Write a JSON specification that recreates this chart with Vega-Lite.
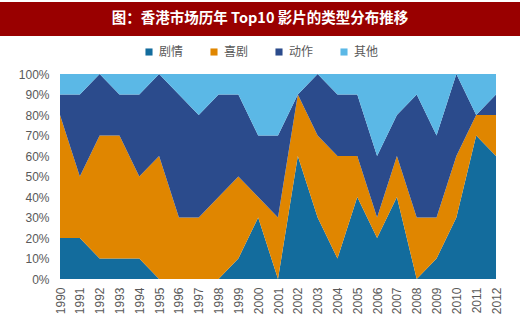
{
  "$schema": "https://vega.github.io/schema/vega-lite/v6.json",
  "padding": {"left": 0, "top": 2, "right": 0, "bottom": 0},
  "spacing": 38,
  "bounds": "flush",
  "background": "white",
  "config": {"view": {"stroke": null}},
  "datasets": {
    "title": [{"t": "图：香港市场历年 Top10 影片的类型分布推移"}],
    "share": [
      {"year": "1990", "genre": "剧情", "v": 0.2}, {"year": "1990", "genre": "喜剧", "v": 0.6}, {"year": "1990", "genre": "动作", "v": 0.1}, {"year": "1990", "genre": "其他", "v": 0.1},
      {"year": "1991", "genre": "剧情", "v": 0.2}, {"year": "1991", "genre": "喜剧", "v": 0.3}, {"year": "1991", "genre": "动作", "v": 0.4}, {"year": "1991", "genre": "其他", "v": 0.1},
      {"year": "1992", "genre": "剧情", "v": 0.1}, {"year": "1992", "genre": "喜剧", "v": 0.6}, {"year": "1992", "genre": "动作", "v": 0.3}, {"year": "1992", "genre": "其他", "v": 0.0},
      {"year": "1993", "genre": "剧情", "v": 0.1}, {"year": "1993", "genre": "喜剧", "v": 0.6}, {"year": "1993", "genre": "动作", "v": 0.2}, {"year": "1993", "genre": "其他", "v": 0.1},
      {"year": "1994", "genre": "剧情", "v": 0.1}, {"year": "1994", "genre": "喜剧", "v": 0.4}, {"year": "1994", "genre": "动作", "v": 0.4}, {"year": "1994", "genre": "其他", "v": 0.1},
      {"year": "1995", "genre": "剧情", "v": 0.0}, {"year": "1995", "genre": "喜剧", "v": 0.6}, {"year": "1995", "genre": "动作", "v": 0.4}, {"year": "1995", "genre": "其他", "v": 0.0},
      {"year": "1996", "genre": "剧情", "v": 0.0}, {"year": "1996", "genre": "喜剧", "v": 0.3}, {"year": "1996", "genre": "动作", "v": 0.6}, {"year": "1996", "genre": "其他", "v": 0.1},
      {"year": "1997", "genre": "剧情", "v": 0.0}, {"year": "1997", "genre": "喜剧", "v": 0.3}, {"year": "1997", "genre": "动作", "v": 0.5}, {"year": "1997", "genre": "其他", "v": 0.2},
      {"year": "1998", "genre": "剧情", "v": 0.0}, {"year": "1998", "genre": "喜剧", "v": 0.4}, {"year": "1998", "genre": "动作", "v": 0.5}, {"year": "1998", "genre": "其他", "v": 0.1},
      {"year": "1999", "genre": "剧情", "v": 0.1}, {"year": "1999", "genre": "喜剧", "v": 0.4}, {"year": "1999", "genre": "动作", "v": 0.4}, {"year": "1999", "genre": "其他", "v": 0.1},
      {"year": "2000", "genre": "剧情", "v": 0.3}, {"year": "2000", "genre": "喜剧", "v": 0.1}, {"year": "2000", "genre": "动作", "v": 0.3}, {"year": "2000", "genre": "其他", "v": 0.3},
      {"year": "2001", "genre": "剧情", "v": 0.0}, {"year": "2001", "genre": "喜剧", "v": 0.3}, {"year": "2001", "genre": "动作", "v": 0.4}, {"year": "2001", "genre": "其他", "v": 0.3},
      {"year": "2002", "genre": "剧情", "v": 0.6}, {"year": "2002", "genre": "喜剧", "v": 0.3}, {"year": "2002", "genre": "动作", "v": 0.0}, {"year": "2002", "genre": "其他", "v": 0.1},
      {"year": "2003", "genre": "剧情", "v": 0.3}, {"year": "2003", "genre": "喜剧", "v": 0.4}, {"year": "2003", "genre": "动作", "v": 0.3}, {"year": "2003", "genre": "其他", "v": 0.0},
      {"year": "2004", "genre": "剧情", "v": 0.1}, {"year": "2004", "genre": "喜剧", "v": 0.5}, {"year": "2004", "genre": "动作", "v": 0.3}, {"year": "2004", "genre": "其他", "v": 0.1},
      {"year": "2005", "genre": "剧情", "v": 0.4}, {"year": "2005", "genre": "喜剧", "v": 0.2}, {"year": "2005", "genre": "动作", "v": 0.3}, {"year": "2005", "genre": "其他", "v": 0.1},
      {"year": "2006", "genre": "剧情", "v": 0.2}, {"year": "2006", "genre": "喜剧", "v": 0.1}, {"year": "2006", "genre": "动作", "v": 0.3}, {"year": "2006", "genre": "其他", "v": 0.4},
      {"year": "2007", "genre": "剧情", "v": 0.4}, {"year": "2007", "genre": "喜剧", "v": 0.2}, {"year": "2007", "genre": "动作", "v": 0.2}, {"year": "2007", "genre": "其他", "v": 0.2},
      {"year": "2008", "genre": "剧情", "v": 0.0}, {"year": "2008", "genre": "喜剧", "v": 0.3}, {"year": "2008", "genre": "动作", "v": 0.6}, {"year": "2008", "genre": "其他", "v": 0.1},
      {"year": "2009", "genre": "剧情", "v": 0.1}, {"year": "2009", "genre": "喜剧", "v": 0.2}, {"year": "2009", "genre": "动作", "v": 0.4}, {"year": "2009", "genre": "其他", "v": 0.3},
      {"year": "2010", "genre": "剧情", "v": 0.3}, {"year": "2010", "genre": "喜剧", "v": 0.3}, {"year": "2010", "genre": "动作", "v": 0.4}, {"year": "2010", "genre": "其他", "v": 0.0},
      {"year": "2011", "genre": "剧情", "v": 0.7}, {"year": "2011", "genre": "喜剧", "v": 0.1}, {"year": "2011", "genre": "动作", "v": 0.0}, {"year": "2011", "genre": "其他", "v": 0.2},
      {"year": "2012", "genre": "剧情", "v": 0.6}, {"year": "2012", "genre": "喜剧", "v": 0.2}, {"year": "2012", "genre": "动作", "v": 0.1}, {"year": "2012", "genre": "其他", "v": 0.1}
    ]
  },
  "resolve": {"legend": {"color": "independent"}},
  "vconcat": [
    {
      "width": 520,
      "height": 34,
      "view": {"fill": "#990000", "stroke": null},
      "data": {"name": "title"},
      "mark": {"type": "text", "color": "white", "font": "Noto Sans CJK SC", "fontSize": 14.5, "fontWeight": "bold", "align": "center", "baseline": "middle"},
      "encoding": {"text": {"field": "t"}}
    },
    {
      "width": 520,
      "height": 205,
      "data": {"name": "share"},
      "transform": [
        {"calculate": "indexof(['剧情','喜剧','动作','其他'], datum.genre)", "as": "k"}
      ],
      "mark": {"type": "area", "interpolate": "linear", "opacity": 1},
      "encoding": {
        "x": {
          "field": "year", "type": "ordinal",
          "scale": {"type": "point", "padding": 0, "range": [60, 496]},
          "axis": {"title": null, "labelAngle": -90, "labelFont": "Liberation Sans", "labelFontSize": 12, "labelColor": "#595959", "ticks": false, "domain": false, "labelPadding": 8, "labelBaseline": "middle", "labelAlign": "right"}
        },
        "y": {
          "field": "v", "type": "quantitative", "stack": "zero",
          "scale": {"domain": [0, 1], "nice": false},
          "axis": {"title": null, "format": ".0%", "values": [0, 0.1, 0.2, 0.3, 0.4, 0.5, 0.6, 0.7, 0.8, 0.9, 1], "grid": false, "ticks": false, "domain": false, "labelFont": "Liberation Sans", "labelFontSize": 12, "labelColor": "#595959", "labelPadding": 11, "offset": -60}
        },
        "color": {
          "field": "genre", "type": "nominal",
          "scale": {"domain": ["剧情", "喜剧", "动作", "其他"], "range": ["#136c9d", "#e08600", "#2b4b8c", "#5bb8e6"]},
          "legend": {"title": null, "orient": "none", "legendX": 143, "legendY": -28, "direction": "horizontal", "symbolType": "square", "symbolSize": 50, "labelFont": "Noto Sans CJK SC", "labelFontSize": 12, "labelColor": "#595959", "columnPadding": 24, "padding": 0}
        },
        "order": {"field": "k", "type": "quantitative", "sort": "ascending"}
      }
    }
  ]
}
